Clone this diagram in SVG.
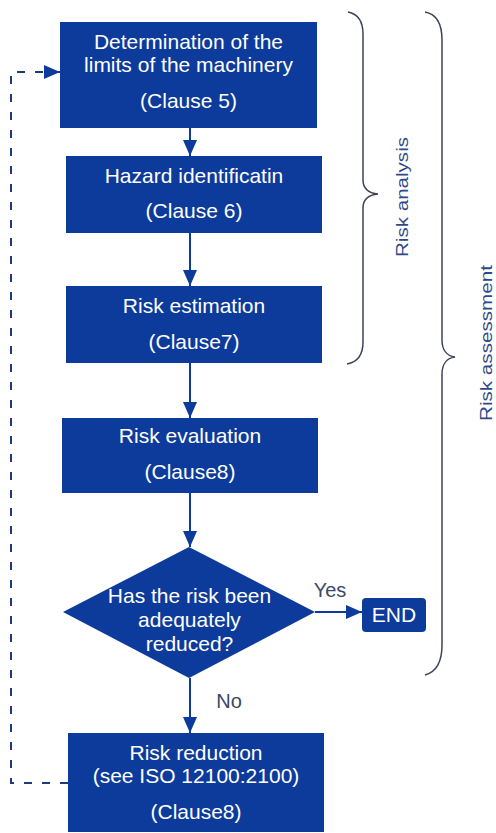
<svg xmlns="http://www.w3.org/2000/svg" width="496" height="833" viewBox="0 0 496 833">
  <defs>
    <style>
      .box { fill: #0d3b9b; }
      .lbl { font-family: "Liberation Sans", Arial, sans-serif; font-size: 21px; fill: #ffffff; text-anchor: middle; }
      .edge { stroke: #0d3b9b; stroke-width: 2; fill: none; }
      .loop { stroke: #1f3a7a; stroke-width: 2; fill: none; stroke-dasharray: 8 10; }
      .brace { stroke: #3c4356; stroke-width: 1.5; fill: none; }
      .side { font-family: "Liberation Sans", Arial, sans-serif; font-size: 16.5px; fill: #2f4a88; }
      .tag { font-family: "Liberation Sans", Arial, sans-serif; font-size: 20px; fill: #3b4866; text-anchor: middle; }
    </style>
    <marker id="arrow" markerUnits="userSpaceOnUse" markerWidth="16" markerHeight="14" refX="16" refY="7" orient="auto">
      <path d="M0,0 L16,7 L0,14 Z" fill="#0d3b9b"/>
    </marker>
    <marker id="arrowLoop" markerUnits="userSpaceOnUse" markerWidth="16" markerHeight="14" refX="16" refY="7" orient="auto">
      <path d="M0,0 L16,7 L0,14 Z" fill="#0d3b9b"/>
    </marker>
  </defs>
  <rect width="496" height="833" fill="#ffffff"/>

  <!-- connectors -->
  <g id="connectors">
    <line class="edge" x1="190" y1="128" x2="190" y2="156" marker-end="url(#arrow)"/>
    <line class="edge" x1="190" y1="233" x2="190" y2="286" marker-end="url(#arrow)"/>
    <line class="edge" x1="190" y1="363" x2="190" y2="418" marker-end="url(#arrow)"/>
    <line class="edge" x1="190" y1="493" x2="190" y2="547" marker-end="url(#arrow)"/>
    <line class="edge" x1="315" y1="612" x2="362" y2="612" marker-end="url(#arrow)"/>
    <line class="edge" x1="190" y1="678" x2="190" y2="733" marker-end="url(#arrow)"/>
    <path class="loop" d="M68,783 L11,783 L11,72 L60,72" marker-end="url(#arrowLoop)"/>
    <text class="tag" x="330" y="597">Yes</text>
    <text class="tag" x="229" y="708">No</text>
  </g>

  <!-- process steps -->
  <g id="limits">
    <rect class="box" x="60" y="22" width="257" height="106"/>
    <text class="lbl" x="188.5" y="49">Determination of the</text>
    <text class="lbl" x="188.5" y="72">limits of the machinery</text>
    <text class="lbl" x="188.5" y="108">(Clause 5)</text>
  </g>
  <g id="hazard">
    <rect class="box" x="66" y="156" width="256" height="77"/>
    <text class="lbl" x="194" y="183">Hazard identificatin</text>
    <text class="lbl" x="194" y="218">(Clause 6)</text>
  </g>
  <g id="estimation">
    <rect class="box" x="66" y="286" width="256" height="77"/>
    <text class="lbl" x="194" y="313">Risk estimation</text>
    <text class="lbl" x="194" y="349">(Clause7)</text>
  </g>
  <g id="evaluation">
    <rect class="box" x="62" y="418" width="256" height="75"/>
    <text class="lbl" x="190" y="443">Risk evaluation</text>
    <text class="lbl" x="190" y="479">(Clause8)</text>
  </g>
  <g id="decision">
    <polygon class="box" points="63,612 189,547 315,612 189,678"/>
    <text class="lbl" x="189.5" y="603">Has the risk been</text>
    <text class="lbl" x="189.5" y="627">adequately</text>
    <text class="lbl" x="189.5" y="651">reduced?</text>
  </g>
  <g id="end">
    <rect class="box" x="362" y="598" width="64" height="34" rx="4"/>
    <text class="lbl" x="394" y="622">END</text>
  </g>
  <g id="reduction">
    <rect class="box" x="68" y="733" width="256" height="99"/>
    <text class="lbl" x="196" y="760">Risk reduction</text>
    <text class="lbl" x="196" y="783">(see ISO 12100:2100)</text>
    <text class="lbl" x="196" y="819">(Clause8)</text>
  </g>

  <!-- grouping braces -->
  <g id="risk-analysis">
    <path class="brace" d="M348,12 C358,14 363,22 363,34 L363,180 C363,188 368,193 378,194 C368,195 363,200 363,208 L363,342 C363,354 358,362 347,364"/>
    <text class="side" transform="translate(408,197) rotate(-90)" text-anchor="middle" textLength="120" lengthAdjust="spacingAndGlyphs">Risk analysis</text>
  </g>
  <g id="risk-assessment">
    <path class="brace" d="M425,12 C436,14 442,24 442,40 L442,340 C442,350 447,356 455,357 C447,358 442,364 442,374 L442,645 C442,662 436,672 425,675"/>
    <text class="side" transform="translate(492,343) rotate(-90)" text-anchor="middle" textLength="156" lengthAdjust="spacingAndGlyphs">Risk assessment</text>
  </g>
</svg>
